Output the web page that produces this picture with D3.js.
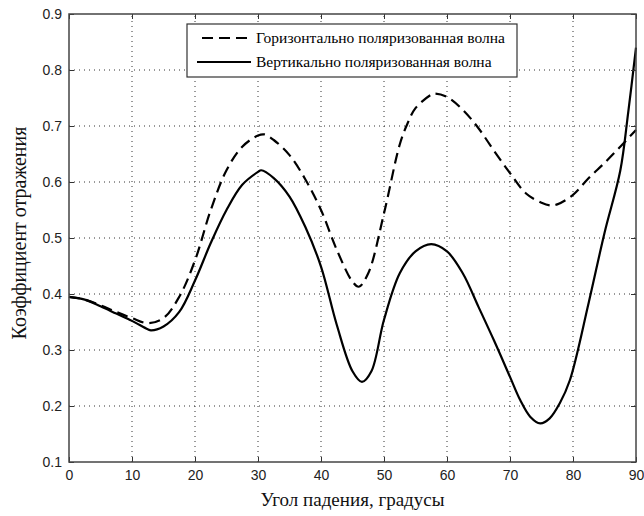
<!DOCTYPE html>
<html>
<head>
<meta charset="utf-8">
<script src="https://cdn.jsdelivr.net/npm/d3@7"></script>
<style>
  body { margin: 0; background: #fff; }
  svg { display: block; }
</style>
</head>
<body>
<script>
// углы падения, градусы
const anglesV = [0,2.5,5,7.5,10,12.5,13,15,17.5,20,22.5,25,27.5,30,30.5,32.5,35,37.5,40,42.5,45,46.5,48,50,52.5,55,57.5,60,62.5,65,67.5,70,71.6,73.2,74.8,76.3,77.9,79.5,82.5,85,87.5,88.75,90]
const vertical = [0.395,0.39,0.378,0.365,0.352,0.337,0.335,0.342,0.368,0.424,0.491,0.55,0.595,0.618,0.621,0.607,0.574,0.52,0.449,0.345,0.262,0.243,0.262,0.354,0.437,0.476,0.489,0.476,0.437,0.377,0.316,0.252,0.211,0.181,0.169,0.178,0.205,0.246,0.385,0.509,0.62,0.723,0.84]

const anglesH = [0,2.5,5,7.5,10,12.5,15,17.5,20,22.5,25,27.5,30,31,32.5,35,37.5,40,42.5,45,46,47.5,50,52.5,53.75,55,57.5,58,60,62.5,65,67.5,70,72.5,75,76.5,77.5,80,82.5,85,87.5,90]
const horizontal = [0.395,0.39,0.38,0.368,0.357,0.348,0.357,0.395,0.46,0.55,0.621,0.663,0.683,0.685,0.675,0.648,0.605,0.55,0.479,0.422,0.413,0.437,0.544,0.667,0.705,0.732,0.756,0.758,0.752,0.729,0.696,0.655,0.616,0.58,0.563,0.558,0.56,0.577,0.607,0.634,0.663,0.693]

const xTicks = [0,10,20,30,40,50,60,70,80,90]
const yTicks = [0.1,0.2,0.3,0.4,0.5,0.6,0.7,0.8,0.9]
const legendLabels = ["Горизонтально поляризованная волна", "Вертикально поляризованная волна"]

const width = 644, height = 516
const m = {left: 69, top: 14, right: 8, bottom: 54}

const svg = d3.select("body").append("svg")
  .attr("width", width).attr("height", height)

const x = d3.scaleLinear().domain([0, 90]).range([m.left, width - m.right])
const y = d3.scaleLinear().domain([0.1, 0.9]).range([height - m.bottom, m.top])

// сетка
const grid = svg.append("g").attr("stroke", "#333").attr("stroke-width", 1).attr("stroke-dasharray", "1,4")
grid.selectAll(".gx").data(xTicks.slice(1, -1)).enter().append("line")
  .attr("x1", d => x(d)).attr("x2", d => x(d))
  .attr("y1", y(0.1)).attr("y2", y(0.9))
grid.selectAll(".gy").data(yTicks.slice(1, -1)).enter().append("line")
  .attr("y1", d => y(d)).attr("y2", d => y(d))
  .attr("x1", x(0)).attr("x2", x(90))

// кривые
const line = d3.line().curve(d3.curveCatmullRom.alpha(0.5))
svg.append("path")
  .datum(anglesH.map((a, i) => [x(a), y(horizontal[i])]))
  .attr("d", line).attr("fill", "none").attr("stroke", "#000")
  .attr("stroke-width", 2.2).attr("stroke-dasharray", "11,6")
svg.append("path")
  .datum(anglesV.map((a, i) => [x(a), y(vertical[i])]))
  .attr("d", line).attr("fill", "none").attr("stroke", "#000")
  .attr("stroke-width", 2.2)

// оси
const fontTick = "'Liberation Sans', Arial, sans-serif"
const xAxis = d3.axisBottom(x).tickValues(xTicks).tickSizeInner(-5).tickSizeOuter(0).tickPadding(8)
const yAxis = d3.axisLeft(y).tickValues(yTicks).tickFormat(d3.format(".1f")).tickSizeInner(-5).tickSizeOuter(0).tickPadding(7)
svg.append("g").attr("transform", `translate(0,${y(0.1)})`).call(xAxis)
svg.append("g").attr("transform", `translate(${x(0)},0)`).call(yAxis)
svg.append("g").attr("transform", `translate(0,${y(0.9)})`)
  .call(d3.axisTop(x).tickValues(xTicks).tickSizeInner(-5).tickSizeOuter(0).tickFormat(""))
svg.append("g").attr("transform", `translate(${x(90)},0)`)
  .call(d3.axisRight(y).tickValues(yTicks).tickSizeInner(-5).tickSizeOuter(0).tickFormat(""))
svg.selectAll(".domain").remove()
svg.selectAll(".tick line").attr("stroke", "#333")
svg.selectAll(".tick text").attr("font-family", fontTick).attr("font-size", 14).attr("fill", "#222")

svg.append("rect")
  .attr("x", x(0)).attr("y", y(0.9))
  .attr("width", x(90) - x(0)).attr("height", y(0.1) - y(0.9))
  .attr("fill", "none").attr("stroke", "#444").attr("stroke-width", 1.5)

// подписи осей
const fontLabel = "'Liberation Serif', 'Times New Roman', serif"
svg.append("text")
  .attr("x", (x(0) + x(90)) / 2).attr("y", 506)
  .attr("text-anchor", "middle").attr("font-family", fontLabel).attr("font-size", 19).attr("fill", "#111")
  .text("Угол падения, градусы")
svg.append("text")
  .attr("transform", "translate(26,233) rotate(-90)")
  .attr("text-anchor", "middle").attr("font-family", fontLabel).attr("font-size", 20).attr("fill", "#111")
  .text("Коэффициент отражения")

// легенда
const lg = svg.append("g").attr("transform", "translate(187,24)")
lg.append("rect").attr("width", 330).attr("height", 53)
  .attr("fill", "#fff").attr("stroke", "#333").attr("stroke-width", 1.2)
const items = lg.selectAll(".item").data(legendLabels).enter().append("g")
  .attr("transform", (d, i) => `translate(0,${14 + i * 24})`)
items.append("line").attr("x1", (d, i) => i ? 10 : 15).attr("x2", 64)
  .attr("stroke", "#000").attr("stroke-width", 2.2)
  .attr("stroke-dasharray", (d, i) => i ? null : "11,6")
items.append("text").attr("x", 69).attr("y", 5)
  .attr("font-family", fontLabel).attr("font-size", 15.5).attr("fill", "#000")
  .text(d => d)
</script>
</body>
</html>
